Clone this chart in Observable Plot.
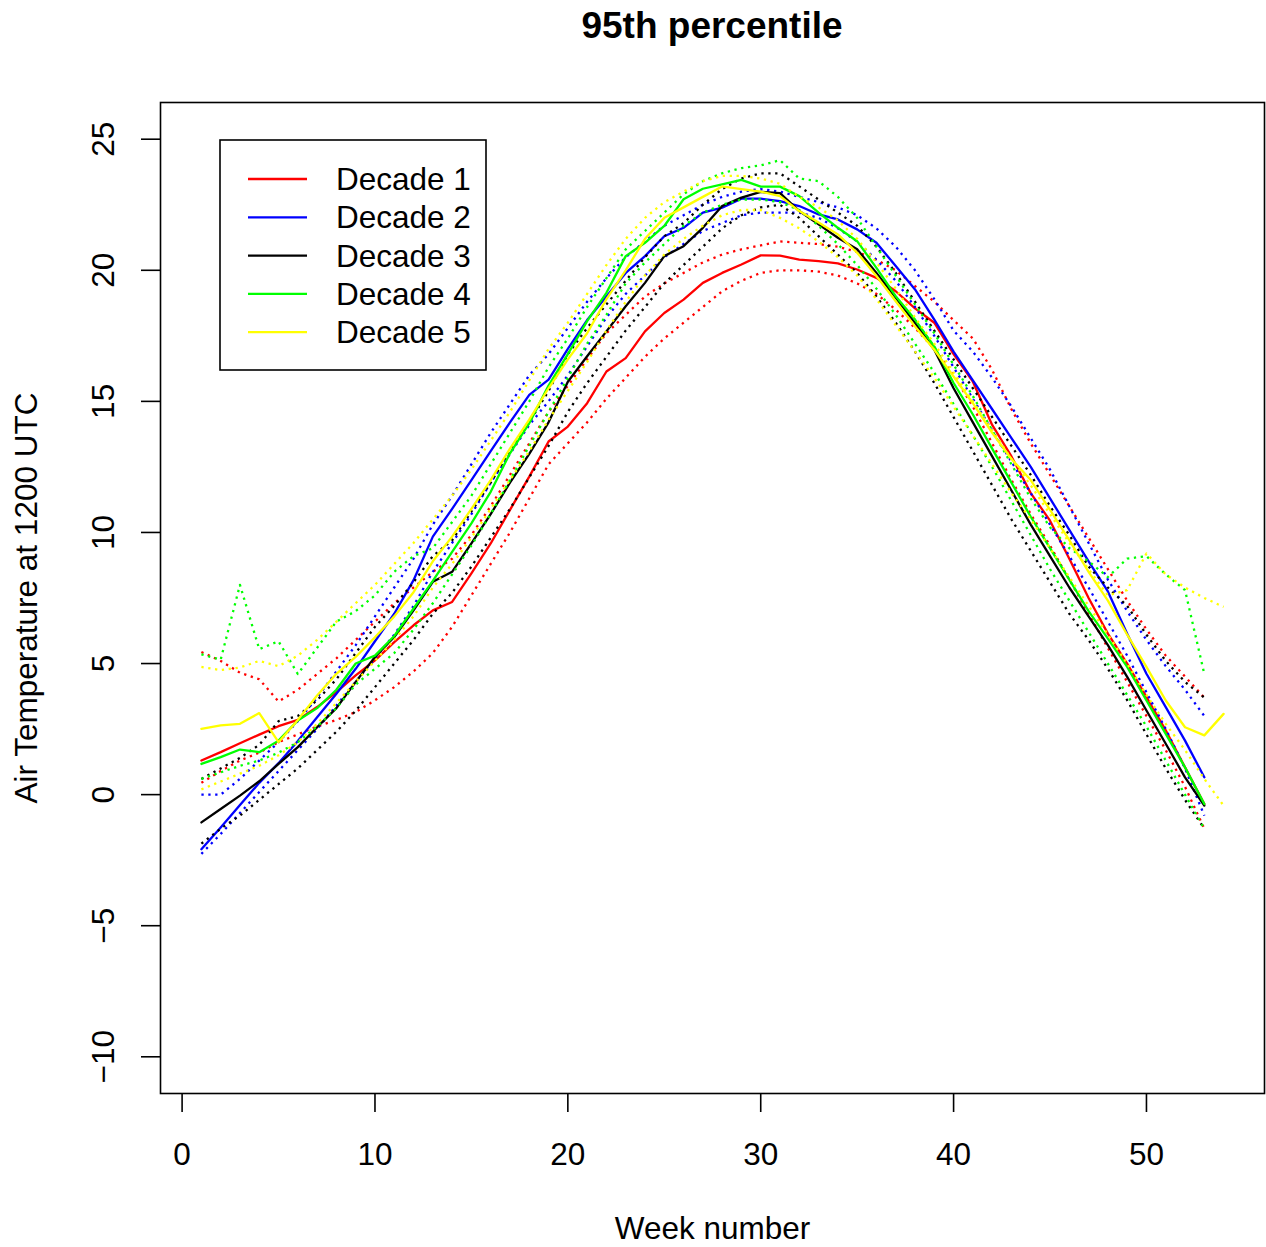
<!DOCTYPE html>
<html><head><meta charset="utf-8">
<script src="https://cdn.jsdelivr.net/npm/d3@7"></script>
<script src="https://cdn.jsdelivr.net/npm/@observablehq/plot@0.6"></script>
<style>
body{margin:0;background:#fff;font-family:"Liberation Sans",Arial,sans-serif;}
#wrap{position:relative;width:1266px;height:1247px;overflow:hidden;}
#title{position:absolute;left:160px;width:1104px;top:4px;text-align:center;font-weight:bold;font-size:37px;line-height:44px;color:#000;}
#legend{position:absolute;left:0;top:0;pointer-events:none;}
</style></head><body>
<div id="wrap"><div id="chart"></div><div id="title">95th percentile</div><svg id="legend" width="1266" height="1247"></svg></div>
<script>
const chartTitle = "95th percentile";
const xLabel = "Week number";
const yLabel = "Air Temperature at 1200 UTC";
const xTicks = [0, 10, 20, 30, 40, 50];
const yTicks = [-10, -5, 0, 5, 10, 15, 20, 25];
const decadeNames = ["Decade 1", "Decade 2", "Decade 3", "Decade 4", "Decade 5"];
const decadeColors = ["#FF0000", "#0000FF", "#000000", "#00FF00", "#FFFF00"];

// Decade 1 (red)
const dec1 = [1.30,1.62,1.96,2.29,2.61,2.85,3.34,3.91,4.55,5.12,5.82,6.46,7.03,7.35,8.44,9.58,10.86,12.13,13.47,14.04,14.93,16.14,16.65,17.67,18.37,18.88,19.52,19.9,20.22,20.57,20.56,20.41,20.35,20.26,20.03,19.71,19.2,18.55,18.0,16.8,15.75,14.1,12.9,11.5,10.45,9.0,7.5,6.14,5.0,3.72,2.45,1.04,-0.36];
const dec1Upper = [5.44,5.1,4.65,4.4,3.55,4.0,4.6,5.2,5.9,6.6,7.3,7.9,8.5,9.0,9.9,11.0,12.2,13.4,14.6,15.6,16.6,17.6,18.3,19.0,19.5,19.9,20.3,20.6,20.8,20.95,21.1,21.05,21.0,20.9,20.7,20.4,20.0,19.4,18.8,18.1,17.4,16.2,14.7,13.4,12.2,11.0,9.8,8.6,7.4,6.3,5.3,4.5,3.7];
const dec1Lower = [0.45,0.9,1.3,1.6,2.0,2.3,2.6,2.85,3.15,3.6,4.1,4.7,5.4,6.4,7.6,8.8,10.0,11.3,12.6,13.4,14.2,15.1,15.9,16.7,17.4,18.0,18.6,19.2,19.6,19.9,20.0,20.0,19.95,19.8,19.5,19.1,18.5,17.8,17.0,16.0,14.8,13.4,12.0,10.7,9.5,8.2,6.9,5.6,4.3,3.0,1.7,0.3,-1.3];
// Decade 2 (blue)
const dec2 = [-2.08,-1.25,-0.4,0.45,1.2,2.05,2.95,3.85,4.8,5.85,6.9,8.18,9.84,10.9,12.0,13.1,14.2,15.25,15.83,17.0,18.1,19.0,19.9,20.54,21.3,21.62,22.2,22.39,22.73,22.73,22.64,22.45,22.13,21.94,21.56,21.05,20.16,19.27,18.12,16.9,15.8,14.7,13.6,12.5,11.3,10.1,8.9,7.75,6.14,4.61,3.34,2.06,0.66];
const dec2Upper = [0.0,0.0,0.6,1.3,2.0,2.8,3.7,4.7,5.7,6.8,7.9,9.0,10.3,11.4,12.6,13.8,14.9,16.0,16.8,17.8,18.8,19.7,20.5,21.1,21.7,22.1,22.5,22.8,23.0,23.1,23.0,22.8,22.6,22.4,22.1,21.6,20.9,20.0,18.9,17.7,16.9,15.9,14.8,13.6,12.4,11.0,9.6,8.2,7.0,5.9,4.9,4.0,3.0];
const dec2Lower = [-2.26,-1.5,-0.7,0.1,0.9,1.7,2.5,3.4,4.3,5.2,6.1,7.2,8.5,9.6,10.7,11.9,13.0,14.1,15.0,16.0,17.1,18.2,19.1,19.8,20.5,21.0,21.5,21.8,22.1,22.2,22.2,22.2,22.0,21.6,21.1,20.4,19.6,18.6,17.5,16.3,15.1,13.9,12.7,11.5,10.3,9.1,7.9,6.6,5.3,3.9,2.5,1.0,-0.8];
// Decade 3 (black)
const dec3 = [-1.06,-0.55,-0.04,0.51,1.17,1.81,2.57,3.3,4.3,5.25,6.01,7.03,8.12,8.5,9.58,10.7,11.9,13.0,14.2,15.75,16.72,17.67,18.63,19.52,20.54,20.92,21.62,22.45,22.77,22.99,22.94,22.26,21.75,21.24,20.8,19.9,18.95,17.99,16.97,15.5,14.2,12.9,11.6,10.3,9.1,7.9,6.8,5.7,4.49,3.21,1.94,0.66,-0.42];
const dec3Upper = [0.6,1.0,1.4,1.9,2.8,3.0,3.6,4.4,5.4,6.4,7.2,8.1,9.1,9.7,10.8,11.9,13.1,14.2,15.4,16.8,17.8,18.7,19.6,20.5,21.3,21.8,22.5,23.1,23.5,23.7,23.7,23.2,22.7,22.2,21.7,20.9,19.9,18.8,17.7,16.6,15.5,14.4,13.3,12.2,11.0,9.9,8.7,7.9,7.2,6.1,5.1,4.3,3.7];
const dec3Lower = [-1.87,-1.3,-0.8,-0.2,0.4,1.0,1.7,2.4,3.2,4.1,5.0,5.9,6.9,7.7,8.7,9.8,10.9,12.1,13.3,14.6,15.7,16.7,17.7,18.6,19.5,20.2,20.9,21.6,22.1,22.4,22.5,22.0,21.3,20.6,19.9,19.0,18.0,16.9,15.7,14.4,13.1,11.8,10.5,9.3,8.1,6.9,5.9,4.8,3.6,2.3,1.0,-0.2,-1.3];
// Decade 4 (green)
const dec4 = [1.17,1.43,1.72,1.62,2.06,2.83,3.3,4.0,5.0,5.3,6.05,7.1,8.15,9.26,10.35,11.55,13.02,14.17,15.6,16.8,18.06,19.14,20.54,21.05,21.69,22.71,23.11,23.28,23.45,23.19,23.19,22.83,22.2,21.62,21.11,20.09,19.01,18.12,17.1,15.7,14.5,13.2,11.9,10.6,9.4,8.2,7.0,5.95,4.87,3.59,2.32,1.04,-0.36];
const dec4Upper = [5.35,5.15,8.0,5.55,5.85,4.6,5.6,6.6,7.0,7.6,8.5,9.1,9.4,10.4,11.4,12.6,13.8,15.0,16.3,17.4,18.6,19.7,20.8,21.5,22.2,22.9,23.4,23.7,23.9,24.0,24.2,23.5,23.4,22.8,22.0,20.9,19.8,18.7,17.6,16.4,15.2,13.9,12.6,11.3,10.2,9.4,8.9,8.3,9.0,9.1,8.4,7.8,4.6];
const dec4Lower = [0.6,0.85,1.1,1.3,1.6,2.0,2.6,3.3,4.2,4.8,5.4,6.3,7.3,8.4,9.5,10.7,12.0,13.3,14.6,15.9,17.2,18.3,19.5,20.3,21.0,21.7,22.2,22.5,22.7,22.7,22.6,22.3,21.7,21.0,20.2,19.3,18.3,17.2,16.1,14.9,13.7,12.5,11.2,9.9,8.6,7.4,6.2,5.0,3.8,2.6,1.3,0.0,-1.3];
// Decade 5 (yellow), one more week
const dec5 = [2.51,2.64,2.70,3.11,2.0,2.85,3.78,4.61,5.25,6.0,6.8,7.72,8.9,9.84,10.9,12.0,13.2,14.3,15.5,16.6,17.6,18.9,20.0,21.2,22.0,22.4,22.8,23.2,23.1,23.0,22.83,22.26,21.82,21.37,20.67,19.78,18.82,17.86,16.97,15.95,14.93,13.8,12.8,12.0,10.86,9.71,8.5,7.4,6.1,4.87,3.59,2.57,2.26,3.08];
const dec5Upper = [4.87,4.75,4.85,5.1,4.9,5.3,5.9,6.6,7.3,8.0,8.8,9.6,10.5,11.4,12.4,13.5,14.6,15.8,17.0,18.0,19.1,20.2,21.2,22.0,22.6,23.0,23.4,23.6,23.6,23.5,23.3,22.8,22.4,21.9,21.2,20.3,19.3,18.2,17.2,16.1,15.0,13.9,12.8,11.8,10.7,9.6,8.6,7.6,7.8,9.2,8.4,7.9,7.5,7.16];
const dec5Lower = [0.2,0.5,0.8,1.1,1.5,2.0,2.7,3.5,4.3,5.1,5.9,6.8,7.9,8.8,9.8,10.9,12.0,13.1,14.3,15.4,16.5,17.7,18.8,19.8,20.6,21.2,21.7,22.1,22.3,22.3,22.0,21.6,21.1,20.5,19.8,18.9,17.9,16.9,15.9,14.8,13.7,12.6,11.5,10.5,9.4,8.3,7.2,6.1,5.0,3.8,2.7,1.7,0.6,-0.42];

const decades = [
  {mid: dec1, upper: dec1Upper, lower: dec1Lower},
  {mid: dec2, upper: dec2Upper, lower: dec2Lower},
  {mid: dec3, upper: dec3Upper, lower: dec3Lower},
  {mid: dec4, upper: dec4Upper, lower: dec4Lower},
  {mid: dec5, upper: dec5Upper, lower: dec5Lower}
];
const toRows = arr => arr.map((v, i) => ({week: i + 1, value: v}));

const FONT = "'Liberation Sans', Arial, Helvetica, sans-serif";
const FS = 31.5;

const marks = [];
decades.forEach((d, k) => {
  const c = decadeColors[k];
  marks.push(Plot.line(toRows(d.mid), {x: "week", y: "value", stroke: c, strokeWidth: 2.3}));
  marks.push(Plot.line(toRows(d.upper), {x: "week", y: "value", stroke: c, strokeWidth: 2.3, strokeDasharray: "2.3,4.6", strokeLinecap: "butt"}));
  marks.push(Plot.line(toRows(d.lower), {x: "week", y: "value", stroke: c, strokeWidth: 2.3, strokeDasharray: "2.3,4.6", strokeLinecap: "butt"}));
});

const chart = Plot.plot({
  width: 1266,
  height: 1247,
  marginLeft: 160,
  marginRight: 2,
  marginTop: 102,
  marginBottom: 154,
  style: {fontFamily: FONT, fontSize: FS + "px", background: "#fff", color: "#000", overflow: "visible"},
  x: {domain: [-1.12, 56.12]},
  y: {domain: [-11.4, 26.4]},
  marks: [
    ...marks,
    Plot.frame({stroke: "#000", strokeWidth: 1.6}),
    Plot.axisX({ticks: xTicks, tickSize: 19, tickPadding: 30, fontSize: FS, strokeWidth: 1.6,
      label: xLabel, labelAnchor: "center", labelOffset: 145, labelArrow: "none"}),
    Plot.axisY({ticks: yTicks, tickSize: 19, tickFormat: () => "", strokeWidth: 1.6,
      label: yLabel, labelAnchor: "center", labelOffset: 146, labelArrow: "none", fontSize: FS}),
    Plot.text(yTicks, {frameAnchor: "left", y: d => d, text: d => String(d).replace("-", "\u2212"),
      rotate: -90, dx: -57, textAnchor: "middle", lineAnchor: "middle", fontSize: FS})
  ]
});
document.getElementById("chart").appendChild(chart);
document.getElementById("title").textContent = chartTitle;

// Legend (inside plot area, as in the original)
const lg = d3.select("#legend");
lg.append("rect").attr("x", 220).attr("y", 140).attr("width", 266).attr("height", 230)
  .attr("fill", "none").attr("stroke", "#000").attr("stroke-width", 1.6);
decadeNames.forEach((name, i) => {
  const y = 179 + i * 38.3;
  lg.append("line").attr("x1", 248).attr("x2", 307).attr("y1", y).attr("y2", y)
    .attr("stroke", decadeColors[i]).attr("stroke-width", 2.3);
  lg.append("text").attr("x", 336).attr("y", y).attr("dy", "0.35em")
    .attr("font-family", FONT).attr("font-size", FS).attr("fill", "#000").text(name);
});
</script>
</body></html>
